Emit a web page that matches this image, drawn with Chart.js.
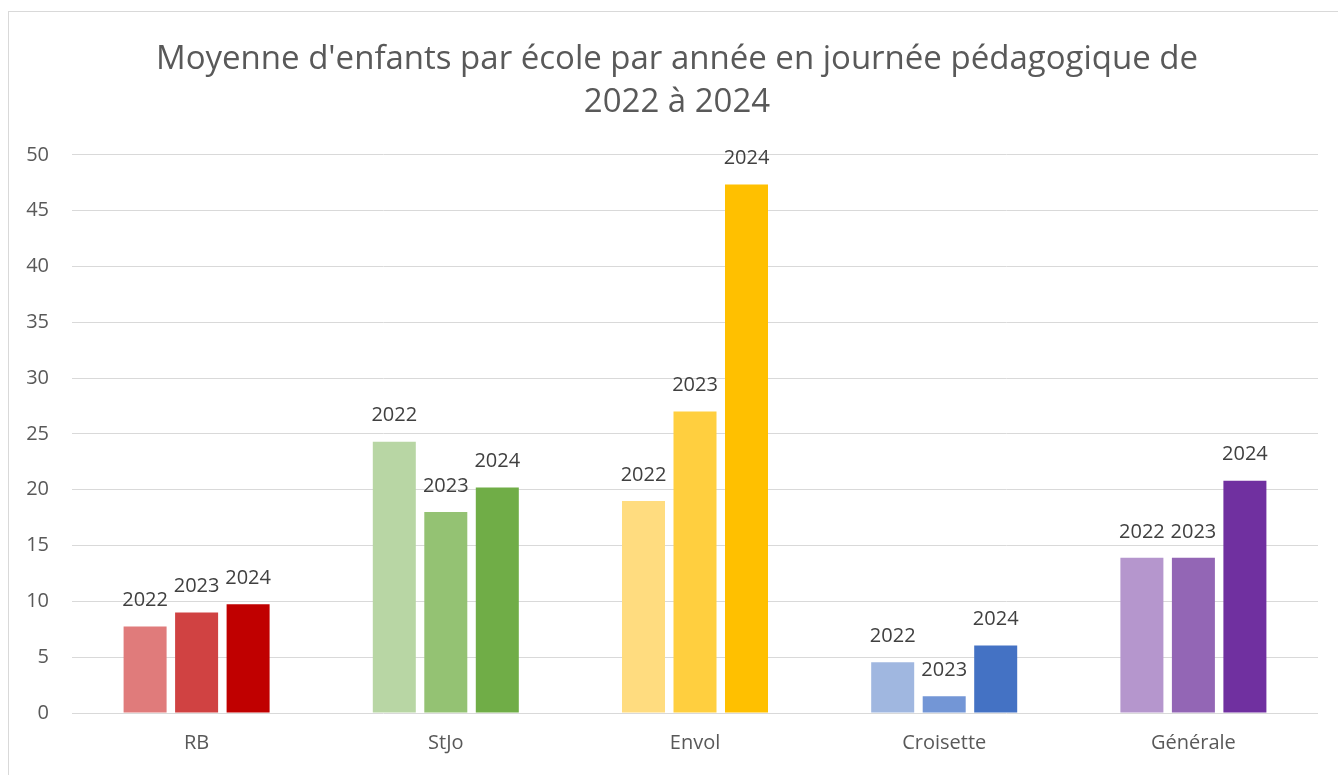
<!DOCTYPE html>
<html lang="fr">
<head>
<meta charset="utf-8">
<script src="https://cdn.jsdelivr.net/npm/chart.js@4"></script>
<style>
  html, body { margin: 0; padding: 0; background: #fff; }
  body { width: 1338px; height: 775px; position: relative; overflow: hidden; }
  #cadre { position: absolute; left: 8px; top: 11px; width: 1340px; height: 800px; border: 1px solid #d9d9d9; box-sizing: border-box; }
  #zone { position: absolute; left: 0; top: 0; width: 1338px; height: 775px; }
</style>
</head>
<body>
<div id="cadre"></div>
<div id="zone"><canvas id="graf"></canvas></div>
<script>
/* donnees */
const ECOLES = ['RB', 'StJo', 'Envol', 'Croisette', 'Générale'];
const ANNEES = ['2022', '2023', '2024'];
const V2022 = [7.75, 24.3, 19.0, 4.55, 13.9];
const V2023 = [9.0, 18.0, 27.0, 1.5, 13.9];
const V2024 = [9.73, 20.2, 47.35, 6.05, 20.8];

// une teinte par ecole, de la plus claire (2022) a la plus foncee (2024)
const COUL_2022 = ['#E07B7B', '#B8D6A4', '#FFDC7F', '#A0B7E0', '#B596CD'];
const COUL_2023 = ['#D04242', '#94C273', '#FFCF3F', '#7396D6', '#9366B5'];
const COUL_2024 = ['#C00000', '#70AD47', '#FFC000', '#4472C4', '#7030A0'];

const GRIS = '#595959';
const POLICE = "'Open Sans', 'Noto Sans', sans-serif";

/* etiquette = nom de la serie au-dessus de chaque barre */
const etiquettes = {
  id: 'etiquettes',
  afterLayout(chart) {
    // le titre d'origine est centre sur le cadre, pas sur tout le canvas
    if (chart.titleBlock) chart.titleBlock.left = 36;
  },
  afterDatasetsDraw(chart) {
    const ctx = chart.ctx;
    ctx.save();
    ctx.font = `20px ${POLICE}`;
    ctx.fillStyle = '#404040';
    ctx.textAlign = 'center';
    ctx.textBaseline = 'middle';
    chart.data.datasets.forEach((ds, i) => {
      chart.getDatasetMeta(i).data.forEach(bar => {
        ctx.fillText(ds.label, bar.x, bar.y - 26);
      });
    });
    ctx.restore();
  }
};

const series = [V2022, V2023, V2024];
const couleurs = [COUL_2022, COUL_2023, COUL_2024];

new Chart(document.getElementById('graf'), {
  type: 'bar',
  data: {
    labels: ECOLES,
    datasets: ANNEES.map((a, i) => ({
      label: a,
      data: series[i],
      backgroundColor: couleurs[i],
      borderWidth: 0,
      categoryPercentage: 0.62,
      barPercentage: 0.835,
    })),
  },
  options: {
    responsive: true,
    maintainAspectRatio: false,
    animation: false,
    layout: { padding: { left: 0, right: 20, top: 0, bottom: 0 } },
    plugins: {
      legend: { display: false },
      tooltip: { enabled: false },
      title: {
        display: true,
        text: ["Moyenne d'enfants par école par année en journée pédagogique de", '2022 à 2024'],
        color: GRIS,
        font: { family: POLICE, size: 33, weight: 'normal', lineHeight: 1.3 },
        padding: { top: 38, bottom: 31 },
      },
    },
    scales: {
      x: {
        grid: { display: false, drawTicks: false },
        border: { display: false },
        ticks: { color: GRIS, font: { family: POLICE, size: 20 }, padding: 18 },
        afterFit: s => { s.height = 62; },
      },
      y: {
        min: 0, max: 50,
        grid: { color: '#d9d9d9', drawTicks: false, lineWidth: 1 },
        border: { display: false },
        ticks: { stepSize: 5, color: GRIS, font: { family: POLICE, size: 20 }, padding: 23 },
        afterFit: s => { s.width = 72; },
      },
    },
  },
  plugins: [etiquettes],
});
</script>
</body>
</html>
